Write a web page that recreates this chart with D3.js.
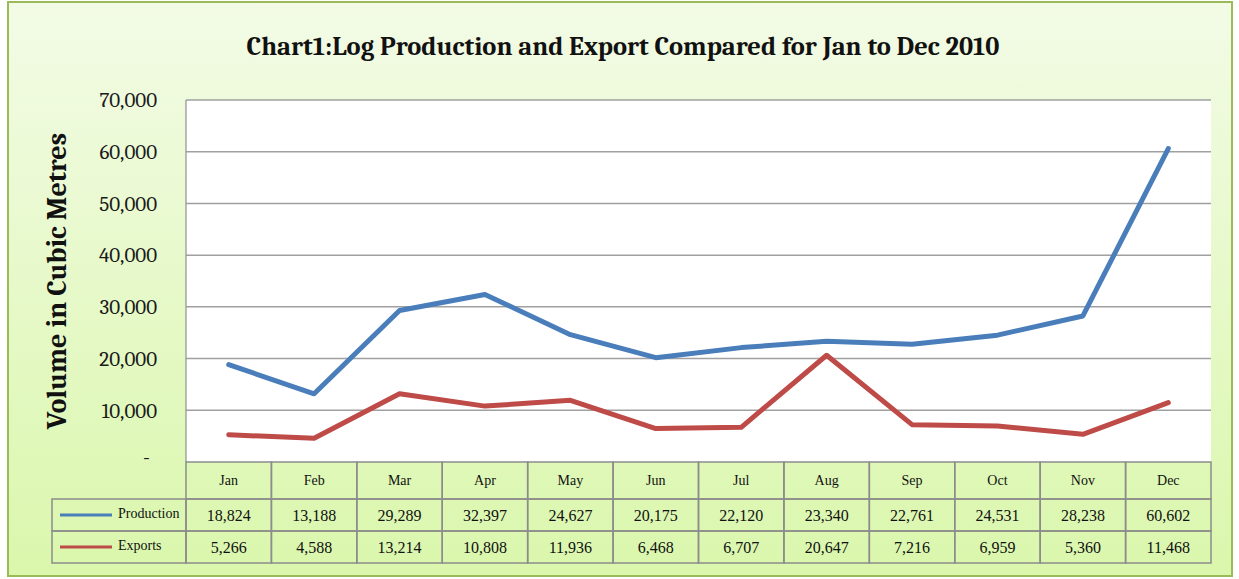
<!DOCTYPE html>
<html>
<head>
<meta charset="utf-8">
<script src="https://cdn.jsdelivr.net/npm/d3@7"></script>
<style>
  body { margin: 0; background: #fff; }
  svg { display: block; }
</style>
</head>
<body>
<svg id="chart" width="1239" height="579"></svg>
<script>
const months = ["Jan", "Feb", "Mar", "Apr", "May", "Jun", "Jul", "Aug", "Sep", "Oct", "Nov", "Dec"];
const production = [18824, 13188, 29289, 32397, 24627, 20175, 22120, 23340, 22761, 24531, 28238, 60602];
const exportsVol = [5266, 4588, 13214, 10808, 11936, 6468, 6707, 20647, 7216, 6959, 5360, 11468];
const yTicks = [0, 10000, 20000, 30000, 40000, 50000, 60000, 70000];

const series = [
  { name: "Production", values: production, color: "#4a7ebb" },
  { name: "Exports", values: exportsVol, color: "#be4b48" }
];

const svg = d3.select("#chart");
const serif = "Cambria, 'Liberation Serif', 'DejaVu Serif', serif";

// background gradient
const defs = svg.append("defs");
const grad = defs.append("linearGradient")
  .attr("id", "bg").attr("x1", 0).attr("y1", 0).attr("x2", 0).attr("y2", 1);
grad.append("stop").attr("offset", "0%").attr("stop-color", "#f3fbe6");
grad.append("stop").attr("offset", "100%").attr("stop-color", "#daf7ac");

svg.append("rect")
  .attr("x", 8).attr("y", 2).attr("width", 1224).attr("height", 574)
  .attr("fill", "url(#bg)")
  .attr("stroke", "#9bbb59").attr("stroke-width", 2);

const plot = { left: 186, right: 1211, top: 100, bottom: 462 };

const x = d3.scaleBand().domain(months).range([plot.left, plot.right]);
const y = d3.scaleLinear().domain([0, 70000]).range([plot.bottom, plot.top]);

// plot area
svg.append("rect")
  .attr("x", plot.left).attr("y", plot.top)
  .attr("width", plot.right - plot.left).attr("height", plot.bottom - plot.top)
  .attr("fill", "#fff");

// gridlines
svg.append("g")
  .selectAll("line")
  .data(yTicks.filter(d => d > 0))
  .join("line")
    .attr("x1", plot.left).attr("x2", plot.right)
    .attr("y1", d => y(d)).attr("y2", d => y(d))
    .attr("stroke", "#a0a0a0").attr("stroke-width", 1.5);

// y axis line
svg.append("line")
  .attr("x1", plot.left).attr("x2", plot.left)
  .attr("y1", plot.top).attr("y2", plot.bottom)
  .attr("stroke", "#909090").attr("stroke-width", 1.2);

// y tick labels
svg.append("g")
  .selectAll("text")
  .data(yTicks)
  .join("text")
    .attr("x", d => d === 0 ? 150 : 157)
    .attr("y", d => y(d))
    .attr("dy", d => d === 0 ? "0.1em" : "0.35em")
    .attr("text-anchor", "end")
    .attr("font-family", serif)
    .attr("font-size", 21)
    .attr("fill", "#1a1a1a")
    .text(d => d === 0 ? "-" : d3.format(",")(d));

// y axis title
svg.append("text")
  .attr("transform", "translate(66,281) rotate(-90)")
  .attr("text-anchor", "middle")
  .attr("font-family", serif)
  .attr("font-size", 28)
  .attr("font-weight", "bold")
  .attr("fill", "#111")
  .text("Volume in Cubic Metres");

// title
svg.append("text")
  .attr("x", 623).attr("y", 55)
  .attr("text-anchor", "middle")
  .attr("font-family", serif)
  .attr("font-size", 26.5)
  .attr("font-weight", "bold")
  .attr("fill", "#111")
  .text("Chart1:Log Production  and Export  Compared for Jan to Dec 2010");

// lines
const line = d3.line()
  .x((d, i) => x(months[i]) + x.bandwidth() / 2)
  .y(d => y(d));

svg.append("g")
  .selectAll("path")
  .data(series)
  .join("path")
    .attr("d", d => line(d.values))
    .attr("fill", "none")
    .attr("stroke", d => d.color)
    .attr("stroke-width", 5)
    .attr("stroke-linejoin", "round")
    .attr("stroke-linecap", "round");

// data table
const rowTop = [plot.bottom, 499, 531, 563];
const tableLeft = 52;
const table = svg.append("g")
  .attr("font-family", "'Liberation Serif', 'DejaVu Serif', serif")
  .attr("fill", "#111");

const gridColor = "#8c8c8c";
// header row cells
table.selectAll("rect.head")
  .data(months)
  .join("rect")
    .attr("class", "head")
    .attr("x", d => x(d)).attr("y", rowTop[0])
    .attr("width", x.bandwidth()).attr("height", rowTop[1] - rowTop[0])
    .attr("fill", "none").attr("stroke", gridColor).attr("stroke-width", 1.5);

series.forEach((s, r) => {
  const y0 = rowTop[r + 1], y1 = rowTop[r + 2];
  table.append("rect")
    .attr("x", tableLeft).attr("y", y0)
    .attr("width", plot.left - tableLeft).attr("height", y1 - y0)
    .attr("fill", "none").attr("stroke", gridColor).attr("stroke-width", 1.5);
  table.selectAll(`rect.row${r}`)
    .data(months)
    .join("rect")
      .attr("class", `row${r}`)
      .attr("x", d => x(d)).attr("y", y0)
      .attr("width", x.bandwidth()).attr("height", y1 - y0)
      .attr("fill", "none").attr("stroke", gridColor).attr("stroke-width", 1.5);

  table.append("line")
    .attr("x1", 60).attr("x2", 112)
    .attr("y1", (y0 + y1) / 2).attr("y2", (y0 + y1) / 2)
    .attr("stroke", s.color).attr("stroke-width", 3);
  table.append("text")
    .attr("x", 118).attr("y", (y0 + y1) / 2 - 2)
    .attr("dy", "0.35em")
    .attr("font-size", 14)
    .text(s.name);

  table.selectAll(`text.val${r}`)
    .data(s.values)
    .join("text")
      .attr("class", `val${r}`)
      .attr("x", (d, i) => x(months[i]) + x.bandwidth() / 2)
      .attr("y", (y0 + y1) / 2)
      .attr("dy", "0.35em")
      .attr("text-anchor", "middle")
      .attr("font-size", 16)
      .text(d => d3.format(",")(d));
});

table.selectAll("text.month")
  .data(months)
  .join("text")
    .attr("class", "month")
    .attr("x", d => x(d) + x.bandwidth() / 2)
    .attr("y", (rowTop[0] + rowTop[1]) / 2)
    .attr("dy", "0.35em")
    .attr("text-anchor", "middle")
    .attr("font-size", 14)
    .text(d => d);
</script>
</body>
</html>
